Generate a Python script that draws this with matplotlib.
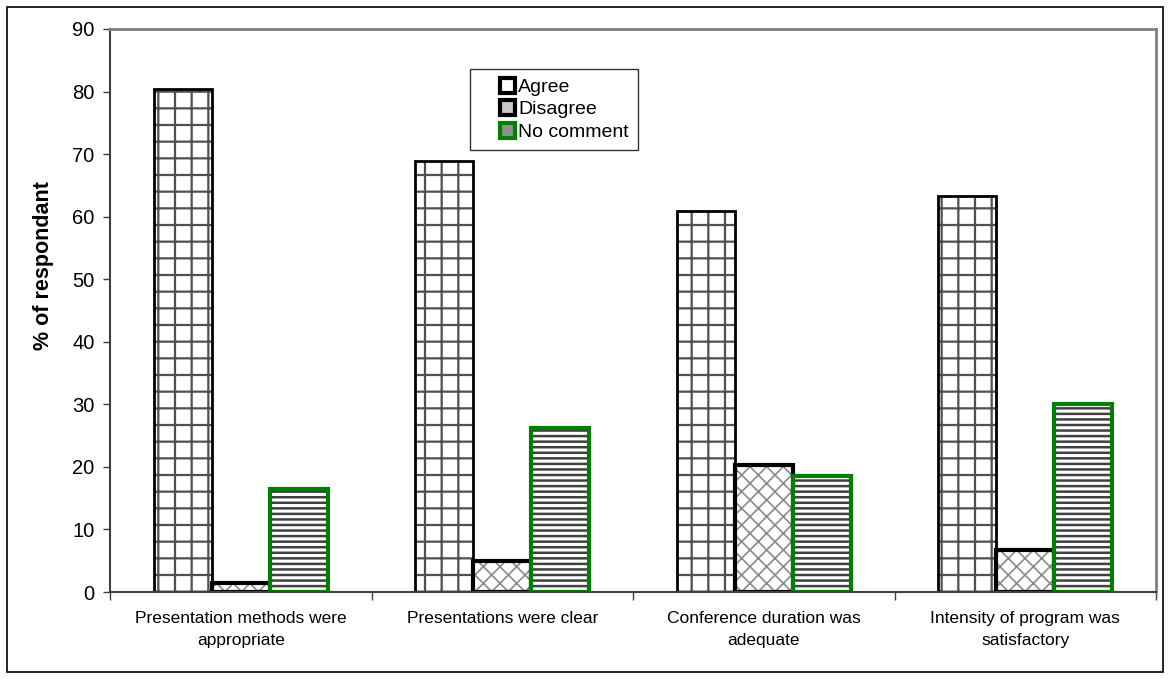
import numpy as np
import matplotlib.pyplot as plt
from matplotlib.patches import Rectangle, Patch
from matplotlib.legend_handler import HandlerPatch

plt.rcParams['font.family'] = ['Liberation Sans', 'DejaVu Sans']

categories = ['Presentation methods were\nappropriate', 'Presentations were clear',
              'Conference duration was\nadequate', 'Intensity of program was\nsatisfactory']
series = ['Agree', 'Disagree', 'No comment']
agree = [80.4, 68.9, 60.9, 63.3]
disagree = [1.5, 4.9, 20.3, 6.7]
no_comment = [16.4, 26.2, 18.5, 30.0]

hatches = ['+', 'xx', '---']
hatch_cols = ['#505050', '#8a8a8a', '#404040']
hatch_lw = [1.6, 1.2, 1.8]
edge_cols = ['black', 'black', '#008000']
edge_lw = [2.0, 3.0, 3.0]
key_faces = ['white', '#c8c8c8', '#909090']


def square_at_right(legend, orig_handle, xdescent, ydescent, width, height, fontsize):
    # small square key pushed to the right end of the handle box
    return Rectangle((width - height - xdescent, -ydescent), height, height)


fig = plt.figure(figsize=(11.7, 6.79), dpi=100)
ax = fig.add_axes([110 / 1170, 1 - 592 / 679, 1046 / 1170, 563 / 679])

x = np.arange(len(categories))
w = 1 / 4.5
for i, vals in enumerate([agree, disagree, no_comment]):
    pos = x + (i - 1) * w
    # hatch fill first, then the outline on top
    with plt.rc_context({'hatch.linewidth': hatch_lw[i]}):
        ax.bar(pos, vals, w, color='white', edgecolor=hatch_cols[i], hatch=hatches[i], linewidth=0)
    ax.bar(pos, vals, w, fill=False, edgecolor=edge_cols[i], linewidth=edge_lw[i])

ax.set_xlim(-0.5, len(categories) - 0.5)
ax.set_ylim(0, 90)
ax.set_yticks(range(0, 91, 10))
ax.tick_params(axis='y', labelsize=14.5, length=5, width=1, color='#404040', pad=6)
ax.set_xticks(np.arange(len(categories) + 1) - 0.5, minor=False)
ax.set_xticklabels([])
ax.tick_params(axis='x', length=6, width=1, color='#404040')
ax.set_xticks(x, minor=True)
ax.set_xticklabels(categories, minor=True, fontsize=12.5, linespacing=1.55)
ax.tick_params(axis='x', which='minor', length=0, pad=14)

ax.set_ylabel('% of respondant', fontsize=15.5, fontweight='bold')
ax.yaxis.set_label_coords(-0.054, 0.579)
for s in ax.spines.values():
    s.set_color('#808080')
    s.set_linewidth(2)
ax.spines['left'].set_color('#404040')
ax.spines['left'].set_linewidth(1.5)
ax.spines['bottom'].set_color('#404040')
ax.spines['bottom'].set_linewidth(1.5)

handles = [Patch(facecolor=key_faces[i], edgecolor=edge_cols[i], linewidth=3) for i in range(3)]
leg = ax.legend(handles, series, loc='upper left', bbox_to_anchor=(0.344, 0.929),
                fontsize=14, frameon=True, fancybox=False, edgecolor='black',
                handlelength=1.85, handleheight=0.8, handletextpad=0.2, borderpad=0.45,
                labelspacing=0.22, borderaxespad=0,
                handler_map={Patch: HandlerPatch(patch_func=square_at_right)})
leg.get_frame().set_linewidth(1)

fig.patches.append(Rectangle((7 / 1170, 7 / 679), 1156 / 1170, 665 / 679,
                             transform=fig.transFigure, fill=False,
                             edgecolor='black', linewidth=1.2))

fig.savefig('out.png', dpi=100)
